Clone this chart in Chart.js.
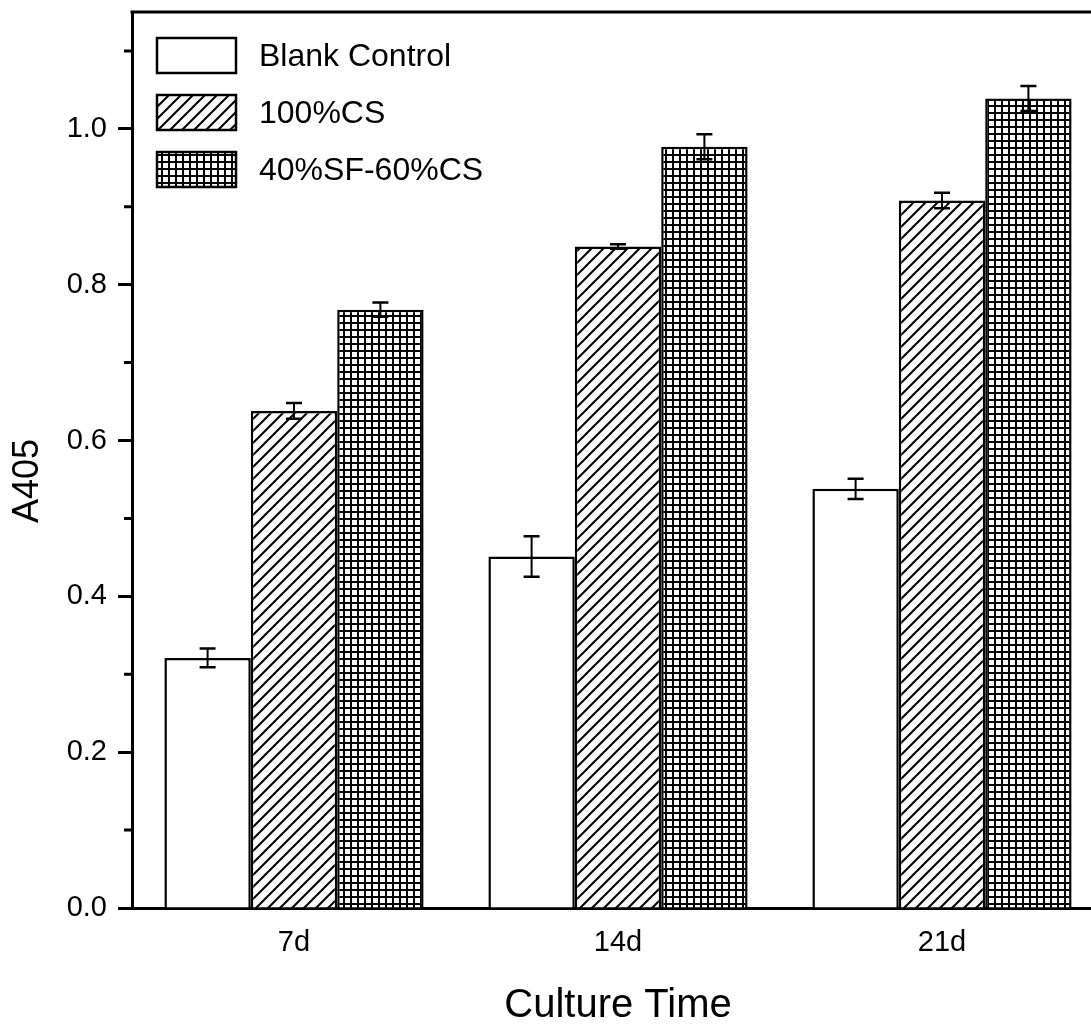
<!DOCTYPE html>
<html lang="en">
<head>
  <meta charset="UTF-8" />
  <title>A405 vs Culture Time</title>
  <script src="https://cdn.jsdelivr.net/npm/chart.js"></script>
  <style>
    html, body {
      margin: 0;
      padding: 0;
      overflow: hidden;
      background: #ffffff;
    }
    /* plot runs past the right edge of the window, like the original figure */
    .chart-box {
      width: 1110px;
      height: 1026px;
    }
  </style>
</head>
<body>
  <div class="chart-box">
    <canvas id="a405Chart"></canvas>
  </div>

  <script>
    // ---- data ----
    const categories = ['7d', '14d', '21d'];
    const seriesNames = ['Blank Control', '100%CS', '40%SF-60%CS'];

    const blankControl = [0.321, 0.451, 0.538];
    const cs100 = [0.638, 0.849, 0.908];
    const sf40cs60 = [0.768, 0.977, 1.039];

    const blankErr = [0.012, 0.026, 0.013];
    const cs100Err = [0.010, 0.003, 0.010];
    const sf40Err = [0.009, 0.016, 0.016];

    const yTicks = [0, 0.2, 0.4, 0.6, 0.8, 1.0];
    const yMinorTicks = [0.1, 0.3, 0.5, 0.7, 0.9, 1.1];

    const FONT = "'Liberation Sans', Arial, sans-serif";

    // ---- fill patterns ----
    function hatchPattern() {
      const c = document.createElement('canvas');
      c.width = 12; c.height = 12;
      const g = c.getContext('2d');
      g.fillStyle = '#fff';
      g.fillRect(0, 0, 12, 12);
      g.strokeStyle = '#000';
      g.lineWidth = 2;
      g.beginPath();
      g.moveTo(-6, 6); g.lineTo(6, -6);
      g.moveTo(0, 12); g.lineTo(12, 0);
      g.moveTo(6, 18); g.lineTo(18, 6);
      g.stroke();
      return g.createPattern(c, 'repeat');
    }

    function gridPattern() {
      const c = document.createElement('canvas');
      c.width = 7; c.height = 7;
      const g = c.getContext('2d');
      g.fillStyle = '#fff';
      g.fillRect(0, 0, 7, 7);
      g.fillStyle = '#000';
      g.fillRect(0, 0, 7, 2);
      g.fillRect(0, 0, 2, 7);
      return g.createPattern(c, 'repeat');
    }

    const fills = ['#ffffff', hatchPattern(), gridPattern()];

    // ---- error bars, frame, minor ticks, legend, y title ----
    const extrasPlugin = {
      id: 'extras',
      beforeDraw(chart) {
        const ctx = chart.ctx;
        ctx.save();
        ctx.fillStyle = '#fff';
        ctx.fillRect(0, 0, chart.width, chart.height);
        ctx.restore();
      },
      afterDatasetsDraw(chart) {
        const ctx = chart.ctx;
        const y = chart.scales.y;
        ctx.save();
        ctx.strokeStyle = '#000';
        chart.data.datasets.forEach((ds, i) => {
          chart.getDatasetMeta(i).data.forEach((bar, j) => {
            const v = ds.data[j];
            const e = ds.errors[j];
            const top = y.getPixelForValue(v + e);
            const bot = y.getPixelForValue(v - e);
            ctx.lineWidth = 2;
            ctx.beginPath();
            ctx.moveTo(bar.x, top);
            ctx.lineTo(bar.x, bot);
            ctx.stroke();
            ctx.lineWidth = 2.5;
            ctx.beginPath();
            ctx.moveTo(bar.x - 8, top); ctx.lineTo(bar.x + 8, top);
            ctx.moveTo(bar.x - 8, bot); ctx.lineTo(bar.x + 8, bot);
            ctx.stroke();
          });
        });
        ctx.restore();
      },
      afterDraw(chart) {
        const ctx = chart.ctx;
        const area = chart.chartArea;
        const y = chart.scales.y;
        ctx.save();
        ctx.strokeStyle = '#000';
        ctx.lineWidth = 3;

        // top and right frame
        ctx.beginPath();
        ctx.moveTo(area.left - 1.5, area.top);
        ctx.lineTo(area.right, area.top);
        ctx.lineTo(area.right, area.bottom);
        ctx.stroke();

        // minor ticks
        ctx.beginPath();
        yMinorTicks.forEach(v => {
          const py = y.getPixelForValue(v);
          ctx.moveTo(area.left - 8, py);
          ctx.lineTo(area.left, py);
        });
        ctx.stroke();

        // legend
        ctx.font = '32px ' + FONT;
        ctx.textBaseline = 'middle';
        ctx.textAlign = 'left';
        chart.data.datasets.forEach((ds, i) => {
          const bx = area.left + 25;
          const by = area.top + 26 + i * 57;
          ctx.fillStyle = ds.backgroundColor;
          ctx.fillRect(bx, by, 79, 35);
          ctx.lineWidth = 2.5;
          ctx.strokeRect(bx, by, 79, 35);
          ctx.fillStyle = '#000';
          ctx.fillText(ds.label, bx + 102, by + 19);
        });

        // y axis title
        ctx.save();
        ctx.font = '36px ' + FONT;
        ctx.textAlign = 'center';
        ctx.textBaseline = 'middle';
        ctx.translate(28, (area.top + area.bottom) / 2 + 21);
        ctx.rotate(-Math.PI / 2);
        ctx.fillText('A405', 0, 0);
        ctx.restore();

        ctx.restore();
      }
    };

    new Chart(document.getElementById('a405Chart'), {
      type: 'bar',
      data: {
        labels: categories,
        datasets: [
          { label: seriesNames[0], data: blankControl, errors: blankErr, backgroundColor: fills[0] },
          { label: seriesNames[1], data: cs100, errors: cs100Err, backgroundColor: fills[1] },
          { label: seriesNames[2], data: sf40cs60, errors: sf40Err, backgroundColor: fills[2] }
        ].map(ds => Object.assign(ds, {
          borderColor: '#000',
          borderWidth: 2.5,
          categoryPercentage: 0.8,
          barPercentage: 1.0
        }))
      },
      options: {
        responsive: true,
        maintainAspectRatio: false,
        animation: false,
        layout: { padding: { top: 12, right: 6, bottom: 0, left: 0 } },
        plugins: {
          legend: { display: false },
          tooltip: { enabled: false }
        },
        scales: {
          x: {
            grid: { display: false },
            border: { display: true, color: '#000', width: 3 },
            ticks: {
              color: '#000',
              padding: 10,
              font: { family: FONT, size: 29 }
            },
            title: {
              display: true,
              text: 'Culture Time',
              color: '#000',
              padding: 0,
              font: { family: FONT, size: 40, lineHeight: 1 }
            },
            afterFit(scale) {
              scale.height = 118;
              scale.paddingLeft = 0;
              scale.paddingRight = 0;
            }
          },
          y: {
            min: 0,
            max: 1.15,
            bounds: 'data',
            grid: {
              drawOnChartArea: false,
              drawTicks: true,
              tickLength: 14,
              tickWidth: 3,
              tickColor: '#000'
            },
            border: { display: true, color: '#000', width: 3 },
            afterBuildTicks(scale) {
              scale.ticks = yTicks.map(v => ({ value: v }));
            },
            ticks: {
              color: '#000',
              padding: 11,
              font: { family: FONT, size: 29 },
              callback: v => v.toFixed(1)
            },
            afterFit(scale) {
              scale.width = 132;
              scale.paddingTop = 0;
              scale.paddingBottom = 0;
            }
          }
        }
      },
      plugins: [extrasPlugin]
    });
  </script>
</body>
</html>
